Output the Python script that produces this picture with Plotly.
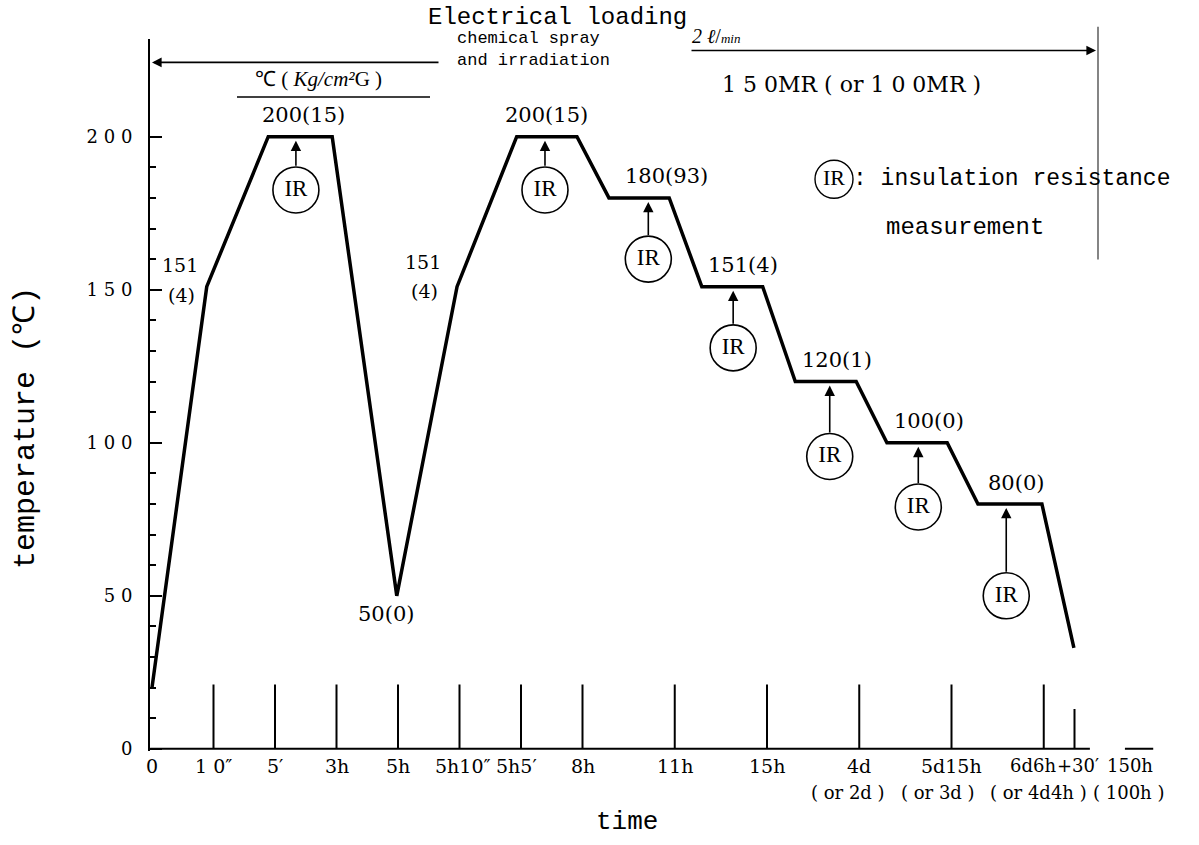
import plotly.graph_objects as go

# ---------------- data ----------------
# Time axis is schematic (not to scale): positions of the marked instants
tick_pos = [1, 2, 3, 4, 5, 6, 7, 8.5, 10, 11.5, 13, 14.5, 15]
tick_len = [21, 21, 21, 21, 21, 21, 21, 21, 21, 21, 21, 21, 13]

# Temperature profile of the test (deg C)
time_pos = [0, 0.89, 1.89, 2.93, 3.98, 4.96, 5.93, 6.91, 7.43, 8.41,
            8.94, 9.93, 10.46, 11.45, 11.95, 12.93, 13.43, 14.47, 14.99]
temperature = [20, 151, 200, 200, 50, 151, 200, 200, 180, 180,
               151, 151, 120, 120, 100, 100, 80, 80, 33]

# Plateau labels: temperature (pressure, kg/cm2G)
step_x = [2.46, 6.41, 8.36, 9.61, 11.14, 12.63, 14.05]
step_temp = [200, 200, 180, 151, 120, 100, 80]
step_text = ["200(15)", "200(15)", "180(93)", "151(4)", "120(1)", "100(0)", "80(0)"]

# Insulation-resistance measurements: circle position and the plateau it points to
ir_x = [2.34, 6.39, 8.07, 9.45, 11.02, 12.46, 13.89]
ir_temp = [182.6, 182.6, 160, 131, 95.5, 79, 50]
ir_target = [200, 200, 180, 151, 120, 100, 80]

# Time tick labels (two rows)
row1_x = [0.0, 1.0, 2.0, 3.0, 4.0, 5.06, 5.93, 7.0, 8.5, 10.0, 11.5, 13.0, 14.32, 15.06, 15.9]
row1_text = ["0", "1 0″", "5′", "3h", "5h", "5h10″", "5h5′", "8h", "11h", "15h",
             "4d", "5d15h", "6d6h", "+30′", "150h"]
row2_x = [11.32, 12.78, 14.42, 15.87]
row2_text = ["( or 2d )", "( or 3d )", "( or 4d4h )", "( 100h )"]

y_tickvals = [0, 50, 100, 150, 200]
y_ticktext = ["0", "5 0", "1 0 0", "1 5 0", "2 0 0"]
y_minor = [10, 20, 30, 40, 60, 70, 80, 90, 110, 120, 130, 140, 160, 170, 180, 190]

# ---------------- figure ----------------
W, H = 1199, 845
SERIF = "DejaVu Serif"
TIMES = "Liberation Serif"
MONO = "Liberation Mono"
INK = "black"

x_axis_px = 150          # pixel column of the temperature axis
x_zero_px = 152          # pixel column of time position 0
x_right_px = 1160
px_per_unit = 61.5
y_zero_px = 756
px_per_deg = 3.09
y_lo, y_hi = -0.6, 232


def P(px, py):
    """pixel position -> paper coordinates"""
    return px / W, 1 - py / H


def y_paper(temp):
    return 1 - (y_zero_px - temp * px_per_deg) / H


fig = go.Figure()

# baseline of the time axis
fig.add_trace(go.Scatter(x=[-0.03, 15.25, None, 15.82, 16.28], y=[0, 0, None, 0, 0],
                         mode="lines", line=dict(color=INK, width=2), hoverinfo="skip"))

# vertical time markers
mx, my = [], []
for p, h in zip(tick_pos, tick_len):
    mx += [p, p, None]
    my += [0, h, None]
fig.add_trace(go.Scatter(x=mx, y=my, mode="lines", line=dict(color=INK, width=2),
                         hoverinfo="skip"))

# temperature profile
fig.add_trace(go.Scatter(x=time_pos, y=temperature, mode="lines",
                         line=dict(color=INK, width=3.5), hoverinfo="skip"))

# IR circles
fig.add_trace(go.Scatter(
    x=ir_x, y=ir_temp, mode="markers+text",
    marker=dict(symbol="circle", size=46, color="white", line=dict(color=INK, width=1.6)),
    text=["IR"] * len(ir_x), textposition="middle center",
    textfont=dict(family=TIMES, size=23, color=INK), hoverinfo="skip"))
# legend circle
fig.add_trace(go.Scatter(
    x=[(834 - x_zero_px) / px_per_unit], y=[(y_zero_px - 181) / px_per_deg],
    mode="markers+text",
    marker=dict(symbol="circle", size=38, color="white", line=dict(color=INK, width=1.4)),
    text=["IR"], textposition="middle center",
    textfont=dict(family=TIMES, size=22, color=INK), hoverinfo="skip"))

annotations = []

# arrows from IR circles to the plateaus
for x, t, tgt in zip(ir_x, ir_temp, ir_target):
    annotations.append(dict(x=x, y=tgt - 1.3, ax=x, ay=t + 7.4, xref="x", yref="y",
                            axref="x", ayref="y", text="", showarrow=True,
                            arrowhead=2, arrowsize=1.3, arrowwidth=1.6, arrowcolor=INK))

# plateau labels
for x, t, s in zip(step_x, step_temp, step_text):
    annotations.append(dict(x=x, y=t + 7, xref="x", yref="y", text=s, showarrow=False,
                            font=dict(family=SERIF, size=21, color=INK)))

# minimum and knee labels
lab_font = dict(family=SERIF, size=19, color=INK)
annotations += [
    dict(x=3.80, y=44, xref="x", yref="y", text="50(0)", showarrow=False,
         font=dict(family=SERIF, size=21, color=INK)),
    dict(x=0.46, y=158.2, xref="x", yref="y", text="151", showarrow=False, font=lab_font),
    dict(x=0.48, y=148.2, xref="x", yref="y", text="(4)", showarrow=False, font=lab_font),
    dict(x=4.41, y=159.2, xref="x", yref="y", text="151", showarrow=False, font=lab_font),
    dict(x=4.43, y=149.5, xref="x", yref="y", text="(4)", showarrow=False, font=lab_font),
]

# time tick labels (placed below the axis in paper units)
row1_y = 1 - 773 / H
row2_y = 1 - 800 / H
for x, s in zip(row1_x, row1_text):
    annotations.append(dict(x=x, y=row1_y, xref="x", yref="paper", text=s,
                            showarrow=False, xanchor="center", yanchor="middle",
                            font=dict(family=SERIF, size=18 if x > 14 else 19, color=INK)))
for x, s in zip(row2_x, row2_text):
    annotations.append(dict(x=x, y=row2_y, xref="x", yref="paper", text=s,
                            showarrow=False, xanchor="center", yanchor="middle",
                            font=dict(family=SERIF, size=18, color=INK)))


def ptext(px, py, s, size, family=MONO, xanchor="center", angle=0):
    x, y = P(px, py)
    return dict(x=x, y=y, xref="paper", yref="paper", text=s, showarrow=False,
                xanchor=xanchor, yanchor="middle", textangle=angle,
                font=dict(family=family, size=size, color=INK))


# axis titles
annotations.append(ptext(627, 830, "time", 26))
annotations.append(ptext(26, 432, "temperature (℃)", 30, angle=-90))

# header: test conditions
annotations += [
    ptext(557, 18, "Electrical loading", 24),
    ptext(455, 39, "chemical spray", 17, xanchor="left"),
    ptext(455, 61, "and irradiation", 17, xanchor="left"),
    ptext(716, 36, "<i>2 ℓ</i>/<span style='font-size:13px'><i>min</i></span>", 20,
          family=TIMES),
    ptext(318, 80, "℃ ( <i>Kg/cm²</i>G )", 21, family=TIMES),
    ptext(720, 85, "1 5 0MR ( or 1 0 0MR )", 22, family=SERIF, xanchor="left"),
    ptext(851, 181, ": insulation resistance", 23, xanchor="left"),
    ptext(884, 230, "measurement", 24, xanchor="left"),
]


# horizontal arrows spanning the loading period (head, tail in pixels)
def h_arrow(head, tail):
    x, y = P(*head)
    return dict(x=x, y=y, xref="paper", yref="paper", axref="pixel", ayref="pixel",
                ax=tail[0] - head[0], ay=tail[1] - head[1], text="", showarrow=True,
                arrowhead=2, arrowsize=1.2, arrowwidth=1.6, arrowcolor=INK)


annotations.append(h_arrow((152, 63), (440, 63)))
annotations.append(h_arrow((1096, 51), (690, 51)))

shapes = []
# underline of the pressure unit
a, b = P(237, 98)
c, d = P(430, 98)
shapes.append(dict(type="line", xref="paper", yref="paper", x0=a, y0=b, x1=c, y1=d,
                   line=dict(color=INK, width=1.5)))
# end-of-test boundary line
a, b = P(1098, 27)
c, d = P(1098, 262)
shapes.append(dict(type="line", xref="paper", yref="paper", x0=a, y0=b, x1=c, y1=d,
                   line=dict(color="#333333", width=1.2)))

fig.update_layout(
    width=W, height=H, margin=dict(l=0, r=0, t=0, b=0),
    paper_bgcolor="white", plot_bgcolor="white", showlegend=False,
    annotations=annotations, shapes=shapes,
    xaxis=dict(domain=[x_axis_px / W, x_right_px / W],
               range=[-(x_zero_px - x_axis_px) / px_per_unit,
                      (x_right_px - x_zero_px) / px_per_unit], visible=False),
    yaxis=dict(domain=[y_paper(y_lo), y_paper(y_hi)],
               range=[y_lo, y_hi], showline=True, linecolor=INK, linewidth=2,
               ticks="inside", ticklen=12, tickwidth=2, tickcolor=INK,
               tickvals=y_tickvals, ticktext=y_ticktext, ticklabelstandoff=12,
               tickfont=dict(family=SERIF, size=18, color=INK),
               minor=dict(tickvals=y_minor, ticks="inside", ticklen=6, tickwidth=1.5,
                          tickcolor=INK),
               showgrid=False, zeroline=False),
)

fig.write_html("out.html")
